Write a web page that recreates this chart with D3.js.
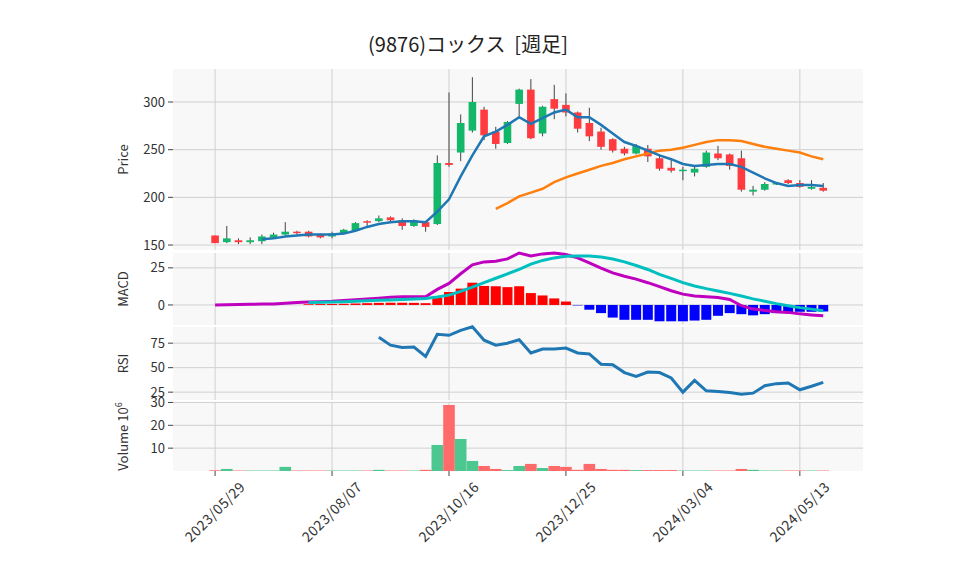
<!DOCTYPE html>
<html><head><meta charset="utf-8">
<script src="https://cdn.jsdelivr.net/npm/d3@7"></script>
<style>body{margin:0;background:#fff}text{font-family:"Noto Sans CJK JP","Noto Sans",sans-serif}</style>
</head><body><svg id="c" width="958" height="575"></svg>
<script>
// weekly candles from 2023/05/29
var opens  = [160,153,155,153,154,158,161,164,164,161,159,162,165,175,175,179,176,170,174,172,236,247,270,292,269,257,298,313,267,303,297,289,278,269,261,251,246,251,241,231,228,226,232,246,245,241,206,208,214,218,215,209,210];
var closes = [152,157,153,155,159,161,164,163,159,158,162,166,173,174,178,176,170,176,169,236,234,278,300,265,256,279,313,262,295,293,289,272,264,253,249,246,254,243,230,228,229,230,247,241,233,208,208,214,215,215,211,211,207];
var highs  = [160,170,157,158,161,163,174,165,165,162,164,167,174,176,181,180,178,177,175,244,310,287,326,295,274,280,314,324,296,318,309,290,294,273,262,253,256,255,245,240,232,234,249,254,246,249,212,216,216,219,218,218,215];
var lows   = [152,152,151,151,151,157,160,161,158,157,157,161,164,169,174,175,166,169,164,171,232,238,268,260,251,256,285,261,264,282,285,268,259,250,247,244,245,237,228,226,218,222,231,239,229,206,202,207,213,214,210,208,206];
var ma13 = [null,null,null,null,156,157,159,160,161,161,161,162,165,169,172,174,175,175,174,185,198,222,244,264,269,276,284,277,283,289,292,284,284,276,267,258,254,249,244,240,235,233,234,235,235,232,226,220,215,212,213,213,212];
var ma26 = [188,194,201,205,209,216,221,225,229,233,236,240,243,246,249,250,252,255,258,260,260,259,256,253,251,249,247,243,240]; // from index 24
var macd = [0,0.1,0.3,0.5,0.6,0.7,1.2,1.6,2,2.2,2.5,3,3.5,4,4.6,5.2,5.5,5.5,5.5,10.5,14.5,21,27,29,29.4,31,35,33,34.4,35,34,31.7,28.4,24.8,21.6,19.3,17.4,15,12.4,9.6,7.3,6,5.5,5,3.7,-0.5,-2.8,-3.7,-4.6,-5,-6,-6.7,-7.3];
var signal = [1.6,1.8,2,2.2,2.5,2.8,3.1,3.4,3.7,4,4.4,5.3,6.6,9.2,12,15,18,21,24,27.5,30,31.7,32.8,33,33,32.3,31,29,26.6,23.9,20.6,17.9,15,12.8,11,9.4,7.8,6,4.1,2.5,0.9,-0.5,-1.8,-2.8,-3.9]; // from index 8
var hist = [0.5,0.6,0.7,0.8,1,1.2,1.4,1.5,1.5,1.4,1.2,4.8,8.7,11,15,12.8,12.6,12,12.6,8,6.4,4.4,2.3,-0.3,-3.2,-5.5,-8.5,-10,-10,-10,-11,-11,-11,-10.5,-10,-7.3,-5.5,-6.2,-7,-6.2,-5.5,-5,-4.6,-4.6,-4.4]; // from index 8
var rsi = [81,73,70.5,71,61.5,84,83,88,91.7,78,73,75,78.5,65,69,69,70,65,64,53.5,53,45,41,45.5,45,39.5,25,37,26.4,25.7,24.7,23,24,31.6,33.7,34.4,27.4,31,35]; // from index 14
var volume = [0.3,0.9,0.2,0.2,0.2,0.2,1.8,0.2,0.2,0.2,0.2,0.2,0.2,0.2,0.5,0.2,0.2,0.2,0.5,11.4,28.9,14,4.4,2.2,0.9,0.4,2.2,3.1,1.3,2.2,1.8,0.5,3.1,0.9,0.5,0.5,0.4,0.4,0.4,0.4,0.2,0.2,0.2,0.2,0.2,0.9,0.5,0.2,0.2,0.2,0.2,0.2,0.2];
var tickIdx = [0,10,20,30,40,50];
var tickLabels = ["2023/05/29","2023/08/07","2023/10/16","2023/12/25","2024/03/04","2024/05/13"];

var svg = d3.select("#c");
var L = 173, R = 863;
var x = d3.scaleLinear().domain([-3.6, 55.4]).range([L, R]);
var up = "#12b76a", down = "#ff3b3f";

svg.append("text").attr("x", 468).attr("y", 52).attr("text-anchor", "middle").style("white-space", "pre")
   .attr("font-size", 20).attr("fill", "#222").text("(9876)コックス  [週足]");

function panel(top, bottom, domain, ticks) {
    var y = d3.scaleLinear().domain(domain).range([bottom, top]);
    var g = svg.append("g");
    g.append("rect").attr("x", L).attr("y", top).attr("width", R - L).attr("height", bottom - top).attr("fill", "#f8f8f8");
    tickIdx.forEach(function (i) {
        g.append("line").attr("x1", x(i)).attr("x2", x(i)).attr("y1", top).attr("y2", bottom).attr("stroke", "#d0d0d0");
    });
    ticks.forEach(function (t) {
        g.append("line").attr("x1", L).attr("x2", R).attr("y1", y(t)).attr("y2", y(t)).attr("stroke", "#d0d0d0");
        g.append("line").attr("x1", L - 5).attr("x2", L).attr("y1", y(t)).attr("y2", y(t)).attr("stroke", "#444");
        g.append("text").attr("x", L - 8).attr("y", y(t)).attr("dy", "0.35em").attr("text-anchor", "end")
         .attr("font-size", 13).attr("fill", "#333").text(t);
    });
    var lab = g.append("text").attr("transform", "translate(" + (L - 45) + "," + ((top + bottom) / 2) + ") rotate(-90)")
     .attr("text-anchor", "middle").attr("font-size", 13).attr("fill", "#333");
    return {y: y, g: g, lab: lab};
}

// price
var p = panel(69, 250, [144.8, 334.6], [150, 200, 250, 300]);
p.lab.text("Price");
var bw = 7.6;
opens.forEach(function (o, i) {
    var c = closes[i], col = c >= o ? up : down;
    p.g.append("line").attr("x1", x(i)).attr("x2", x(i)).attr("y1", p.y(highs[i])).attr("y2", p.y(lows[i])).attr("stroke", "#444").attr("stroke-width", 1);
    p.g.append("rect").attr("x", x(i) - bw / 2).attr("width", bw)
     .attr("y", p.y(Math.max(o, c))).attr("height", Math.max(1.5, Math.abs(p.y(o) - p.y(c)))).attr("fill", col);
});
var line = function (yS, off) {
    return d3.line().defined(function (d) { return d != null; }).x(function (d, i) { return x(i + off); }).y(function (d) { return yS(d); });
};
p.g.append("path").datum(ma26).attr("d", line(p.y, 24)).attr("fill", "none").attr("stroke", "#ff7f0e").attr("stroke-width", 2.5);
p.g.append("path").datum(ma13).attr("d", line(p.y, 0)).attr("fill", "none").attr("stroke", "#1f77b4").attr("stroke-width", 2.5);

// macd
var m = panel(253, 325, [-13.5, 35], [0, 25]);
m.lab.text("MACD");
hist.forEach(function (h, k) {
    var i = k + 8;
    m.g.append("rect").attr("x", x(i) - 5).attr("width", 10)
     .attr("y", m.y(Math.max(0, h))).attr("height", Math.abs(m.y(h) - m.y(0))).attr("fill", h >= 0 ? "#ff0000" : "#0000ff");
});
m.g.append("path").datum(macd).attr("d", line(m.y, 0)).attr("fill", "none").attr("stroke", "#bf00bf").attr("stroke-width", 3);
m.g.append("path").datum(signal).attr("d", line(m.y, 8)).attr("fill", "none").attr("stroke", "#00bfbf").attr("stroke-width", 3);

// rsi
var r = panel(327, 400, [17, 91.5], [25, 50, 75]);
r.lab.text("RSI");
r.g.append("path").datum(rsi).attr("d", line(r.y, 14)).attr("fill", "none").attr("stroke", "#1f77b4").attr("stroke-width", 3);

// volume
var v = panel(402, 471, [0, 30.2], [10, 20, 30]);
v.lab.append("tspan").text("Volume  10");
v.lab.append("tspan").attr("dy", -6).attr("font-size", 9).text("6");
volume.forEach(function (d, i) {
    var col = closes[i] >= opens[i] ? "#4cc790" : "#ff6b6b";
    v.g.append("rect").attr("x", x(i) - 5.8).attr("width", 11.6)
     .attr("y", v.y(d)).attr("height", v.y(0) - v.y(d)).attr("fill", col);
});

// x axis
tickIdx.forEach(function (i, k) {
    svg.append("line").attr("x1", x(i)).attr("x2", x(i)).attr("y1", 471).attr("y2", 476).attr("stroke", "#444");
    svg.append("text").attr("transform", "translate(" + x(i) + ",512) rotate(-45)")
       .attr("text-anchor", "middle").attr("dy", "0.35em").attr("font-size", 14).attr("letter-spacing", 0.5)
       .attr("fill", "#333").text(tickLabels[k]);
});
</script></body></html>
